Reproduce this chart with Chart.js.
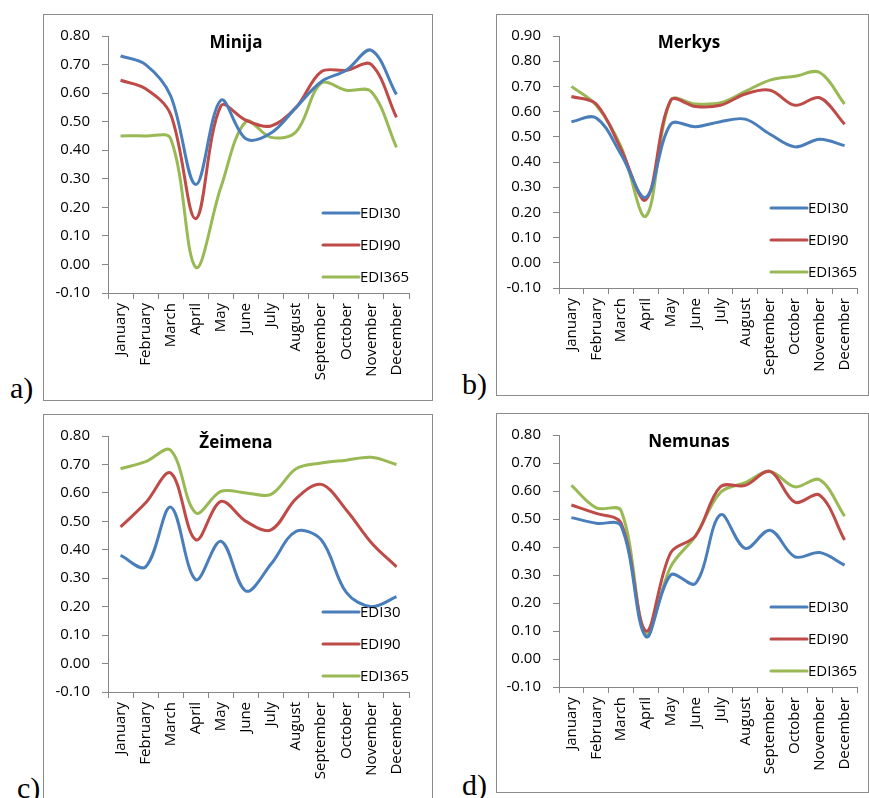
<!DOCTYPE html>
<html>
<head>
<meta charset="utf-8">
<script src="https://cdn.jsdelivr.net/npm/chart.js@4.4.0/dist/chart.umd.min.js"></script>
<style>
html, body { margin: 0; padding: 0; background: #fff; overflow: hidden; width: 869px; height: 798px; }
.panel { position: absolute; border: 1px solid #8c8c8c; box-sizing: border-box; background: #fff; }
.panel canvas { display: block; }
.tag { position: absolute; font-family: "Liberation Serif", serif; font-size: 30px; line-height: 1; color: #000; }
</style>
</head>
<body>

<div class="panel" style="left:43px;top:14px;width:390px;height:387px"><canvas id="chartA" width="388" height="385"></canvas></div>
<div class="panel" style="left:496px;top:14px;width:373px;height:382px"><canvas id="chartB" width="371" height="380"></canvas></div>
<div class="panel" style="left:43px;top:414px;width:390px;height:400px"><canvas id="chartC" width="388" height="398"></canvas></div>
<div class="panel" style="left:496px;top:413px;width:373px;height:380px"><canvas id="chartD" width="371" height="378"></canvas></div>

<div class="tag" style="left:10px;top:373px">a)</div>
<div class="tag" style="left:462px;top:369px">b)</div>
<div class="tag" style="left:17px;top:773px">c)</div>
<div class="tag" style="left:462px;top:770px">d)</div>

<script>
// Months on the category axis
const months = ['January', 'February', 'March', 'April', 'May', 'June',
    'July', 'August', 'September', 'October', 'November', 'December'];

const seriesNames = ['EDI30', 'EDI90', 'EDI365'];
const seriesColors = ['#4a7ebb', '#be4b48', '#98b954'];

// a) Minija
const minija30 = [0.73, 0.70, 0.59, 0.28, 0.575, 0.44, 0.46, 0.55, 0.64, 0.68, 0.75, 0.595];
const minija90 = [0.645, 0.615, 0.525, 0.16, 0.555, 0.505, 0.485, 0.55, 0.675, 0.68, 0.70, 0.515];
const minija365 = [0.45, 0.45, 0.44, -0.01, 0.27, 0.50, 0.445, 0.465, 0.635, 0.61, 0.605, 0.41];

// b) Merkys
const merkys30 = [0.56, 0.575, 0.43, 0.26, 0.55, 0.54, 0.56, 0.57, 0.51, 0.46, 0.49, 0.465];
const merkys90 = [0.66, 0.63, 0.45, 0.25, 0.645, 0.62, 0.625, 0.67, 0.685, 0.625, 0.655, 0.55];
const merkys365 = [0.70, 0.625, 0.46, 0.185, 0.645, 0.63, 0.635, 0.68, 0.725, 0.74, 0.755, 0.63];

// c) Zeimena
const zeimena30 = [0.38, 0.34, 0.55, 0.295, 0.43, 0.255, 0.35, 0.465, 0.435, 0.25, 0.20, 0.235];
const zeimena90 = [0.48, 0.565, 0.67, 0.435, 0.57, 0.50, 0.47, 0.58, 0.63, 0.54, 0.425, 0.34];
const zeimena365 = [0.685, 0.71, 0.75, 0.53, 0.605, 0.60, 0.595, 0.685, 0.705, 0.715, 0.725, 0.70];

// d) Nemunas
const nemunas30 = [0.505, 0.485, 0.475, 0.08, 0.30, 0.27, 0.515, 0.395, 0.46, 0.365, 0.38, 0.335];
const nemunas90 = [0.55, 0.52, 0.485, 0.10, 0.38, 0.44, 0.615, 0.62, 0.67, 0.56, 0.585, 0.425];
const nemunas365 = [0.62, 0.54, 0.53, 0.09, 0.33, 0.44, 0.595, 0.63, 0.67, 0.615, 0.64, 0.51];

const axisColor = '#868686';
const labelFont = { family: '"Open Sans", sans-serif', size: 15 };

// Title and legend sit inside the plot area, like in the Excel original
const overlayPlugin = {
    id: 'overlay',
    afterDraw(chart, args, opts) {
        const ctx = chart.ctx;
        const area = chart.chartArea;
        ctx.save();
        ctx.fillStyle = '#000';
        ctx.font = 'bold 17px "Open Sans", sans-serif';
        ctx.textAlign = 'center';
        ctx.textBaseline = 'middle';
        ctx.fillText(opts.text, 192, 28);

        ctx.font = '15px "Open Sans", sans-serif';
        ctx.textAlign = 'left';
        chart.data.datasets.forEach((ds, i) => {
            const y = area.bottom - 80 + i * 32;
            ctx.strokeStyle = ds.borderColor;
            ctx.lineWidth = 3;
            ctx.lineCap = 'round';
            ctx.beginPath();
            ctx.moveTo(area.right - 86, y);
            ctx.lineTo(area.right - 50, y);
            ctx.stroke();
            ctx.fillText(ds.label, area.right - 49, y + 1);
        });
        ctx.restore();
    }
};

function makeChart(id, title, yMax, values, box) {
    const ctx = document.getElementById(id).getContext('2d');
    return new Chart(ctx, {
        type: 'line',
        data: {
            labels: months,
            datasets: values.map((v, i) => ({
                label: seriesNames[i],
                data: v,
                borderColor: seriesColors[i],
                backgroundColor: seriesColors[i],
                borderWidth: 3,
                pointRadius: 0,
                tension: 0.35,
                fill: false
            }))
        },
        options: {
            responsive: false,
            animation: false,
            layout: { padding: { left: 0, top: box.top, right: box.right, bottom: 0 } },
            plugins: {
                legend: { display: false },
                tooltip: { enabled: false },
                overlay: { text: title }
            },
            scales: {
                x: {
                    offset: true,
                    grid: { offset: true, drawOnChartArea: false, tickLength: 6, color: axisColor },
                    border: { color: axisColor },
                    ticks: { minRotation: 90, maxRotation: 90, autoSkip: false, padding: 4, color: '#000', font: labelFont },
                    afterFit: (s) => { s.height = box.xh; }
                },
                y: {
                    min: -0.1,
                    max: yMax,
                    grid: { drawOnChartArea: false, tickLength: 6, color: axisColor },
                    border: { color: axisColor },
                    ticks: {
                        stepSize: 0.1,
                        padding: 12,
                        color: '#000',
                        font: labelFont,
                        callback: (v) => v.toFixed(2)
                    },
                    afterFit: (s) => { s.width = box.yw; }
                }
            }
        },
        plugins: [overlayPlugin]
    });
}

makeChart('chartA', 'Minija', 0.8, [minija30, minija90, minija365], { top: 20, right: 23, xh: 107, yw: 64 });
makeChart('chartB', 'Merkys', 0.9, [merkys30, merkys90, merkys365], { top: 19, right: 11, xh: 107, yw: 62 });
makeChart('chartC', 'Žeimena', 0.8, [zeimena30, zeimena90, zeimena365], { top: 19, right: 23, xh: 121, yw: 64 });
makeChart('chartD', 'Nemunas', 0.8, [nemunas30, nemunas90, nemunas365], { top: 18, right: 11, xh: 105, yw: 62 });
</script>
</body>
</html>
